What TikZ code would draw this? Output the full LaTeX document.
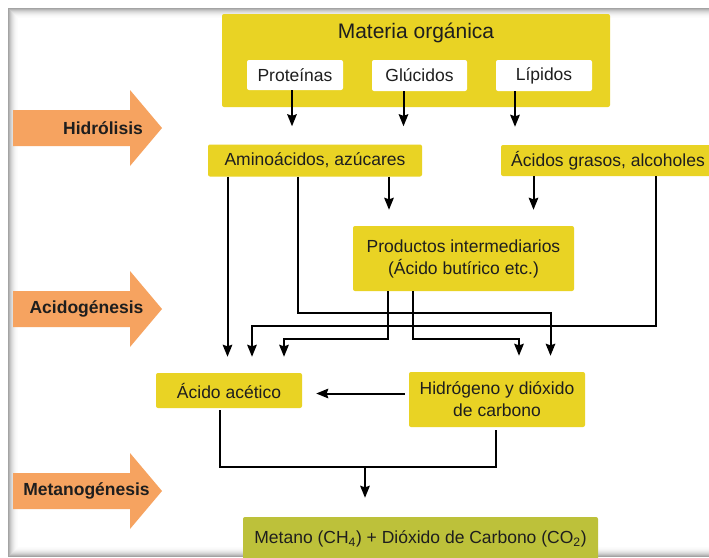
\documentclass[tikz,border=0pt]{standalone}
\usepackage{fontspec}
\setmainfont{Liberation Sans}
\usetikzlibrary{arrows.meta}
\definecolor{boxyellow}{RGB}{233,211,36}
\definecolor{stageorange}{RGB}{246,163,96}
\definecolor{boxgreen}{RGB}{189,193,58}
\definecolor{ink}{RGB}{30,30,30}
\begin{document}
\begin{tikzpicture}[x=1pt,y=-1pt,
  txt/.style={font=\fontsize{17.5}{22}\selectfont, text=ink},
  ybox/.style={txt, fill=boxyellow, rounded corners=2pt, inner sep=0pt, align=center},
  wbox/.style={txt, fill=white, rounded corners=2pt, inner sep=0pt},
  gbox/.style={txt, fill=boxgreen, rounded corners=2pt, inner sep=0pt},
  stage/.style={fill=stageorange},
  stagetext/.style={font=\fontsize{17.5}{22}\selectfont\bfseries, text=ink},
  conn/.style={line width=2pt, draw=black},
  arr/.style={conn, -{Stealth[length=12pt,width=9.5pt,inset=1.5pt]}, shorten >=16pt},
]
\useasboundingbox (0,0) rectangle (709,557);
\fill[white] (0,0) rectangle (709,557);

% page frame: inner shadow fading inwards from the outer edge
\foreach \i/\g in {0/72,1/58,2/45,3/34,4/25,5/18,6/12,7/7,8/4,9/2}
  \draw[gray!\g, line width=1.05pt] (8.5+\i,8.5+\i) rectangle (800,556.5-\i);

% stage arrows
\foreach \cy in {128,309,491}
  \fill[stage] (13,\cy-18) -- (130,\cy-18) -- (130,\cy-38) -- (162,\cy)
     -- (130,\cy+38) -- (130,\cy+18) -- (13,\cy+18) -- cycle;
\node[stagetext] (hidrolisis) at (103,128) {Hidrólisis};
\node[stagetext] (acidogenesis) at (86.5,308.5) {Acidogénesis};
\node[stagetext] (metanogenesis) at (86.5,490.5) {Metanogénesis};

% organic matter
\node[ybox, minimum width=388pt, minimum height=93pt] (materia) at (416,60.5) {};
\node[font=\fontsize{21}{25}\selectfont, text=ink] (titulo) at (416,33) {Materia orgánica};
\node[wbox, minimum width=96pt, minimum height=30pt] (prot) at (295,75) {Proteínas};
\node[wbox, minimum width=95pt, minimum height=31pt] (gluc) at (419.5,75.5) {Glúcidos};
\node[wbox, minimum width=96pt, minimum height=31pt] (lip) at (544,75.5) {Lípidos};

% products
\node[ybox, minimum width=214pt, minimum height=32pt] (amino) at (315,160.5) {Aminoácidos, azúcares};
\node[ybox, minimum width=214pt, minimum height=31pt] (grasos) at (608,160.5) {Ácidos grasos, alcoholes};
\node[ybox, minimum width=221pt, minimum height=65pt] (inter) at (463.5,258.5) {Productos intermediarios\\(Ácido butírico etc.)};
\node[ybox, minimum width=146pt, minimum height=35pt] (acetico) at (229,390.5) {Ácido acético};
\node[ybox, minimum width=176pt, minimum height=55pt] (hidro) at (497,399.5) {Hidrógeno y dióxido\\de carbono};
\node[gbox, minimum width=355pt, minimum height=44pt] (metano) at (420.5,539) {Metano (CH\textsubscript{4}) + Dióxido de Carbono (CO\textsubscript{2})};

% connector columns and bends
\coordinate (xp) at (292,0);
\coordinate (xg) at (403.5,0);
\coordinate (xl) at (515,0);
\coordinate (xa1) at (227.5,0);
\coordinate (xa3) at (389,0);
\coordinate (xg1) at (533.5,0);
\coordinate (b1) at (297.5,313);
\coordinate (b2) at (550.5,313);
\coordinate (b3) at (655.5,326);
\coordinate (b4) at (252,326);
\coordinate (b5) at (388,339);
\coordinate (b6) at (284,339);
\coordinate (b7) at (413,339);
\coordinate (b8) at (519,339);
\coordinate (m1) at (220,467);
\coordinate (m2) at (496,467);
\coordinate (m3) at (365,467);

% hydrolysis
\draw[arr, shorten >=18pt] (prot.south -| xp) -- (amino.north -| xp);
\draw[arr, shorten >=18pt] (gluc.south -| xg) -- (amino.north -| xg);
\draw[arr, shorten >=18pt] (lip.south -| xl) -- (grasos.north -| xl);

% acidogenesis
\draw[arr] (amino.south -| xa1) -- (acetico.north -| xa1);
\draw[arr] (amino.south -| b1) -- (b1) -- (b2) -- (hidro.north -| b2);
\draw[arr] (amino.south -| xa3) -- (inter.north -| xa3);
\draw[arr] (grasos.south -| xg1) -- (inter.north -| xg1);
\draw[arr] (grasos.south -| b3) -- (b3) -- (b4) -- (acetico.north -| b4);
\draw[arr] (inter.south -| b5) -- (b5) -- (b6) -- (acetico.north -| b6);
\draw[arr] (inter.south -| b7) -- (b7) -- (b8) -- (hidro.north -| b8);
\draw[arr, shorten <=4pt, shorten >=14pt] (hidro.west |- 0,393.5) -- (acetico.east |- 0,393.5);

% methanogenesis
\draw[conn, shorten <=2pt, shorten >=3pt] (acetico.south -| m1) -- (m1) -- (m2) -- (hidro.south -| m2);
\draw[arr, shorten >=19pt] (m3) -- (metano.north -| m3);
\end{tikzpicture}
\end{document}
